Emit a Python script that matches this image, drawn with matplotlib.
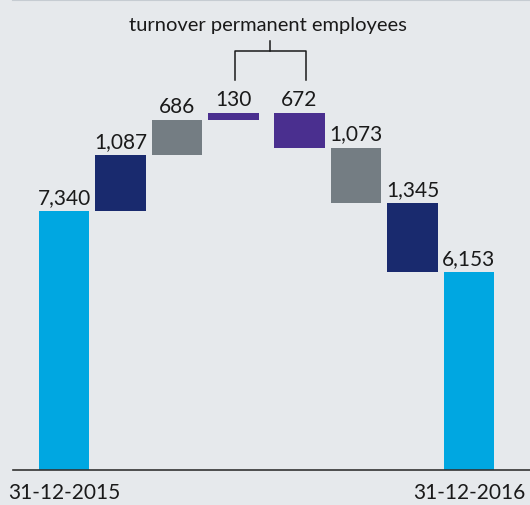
import matplotlib.pyplot as plt

plt.rcParams['font.family'] = ['Lato', 'DejaVu Sans']

# data
steps = [7340, 1087, 686, 130, -672, -1073, -1345, 6153]
labels = ['7,340', '1,087', '686', '130', '672', '1,073', '1,345', '6,153']
colors = ['#00a7e1', '#192a6e', '#747d83', '#4a2f8f',
          '#4a2f8f', '#747d83', '#192a6e', '#00a7e1']
xticklabels = ['31-12-2015', '31-12-2016']
bracket_text = 'turnover permanent employees'

bg = '#e6e9ec'
fig = plt.figure(figsize=(5.30, 5.06), dpi=100, facecolor=bg)
ax = fig.add_axes([13 / 530, 35 / 506, 517 / 530, 471 / 506 - 0.002])
ax.set_facecolor(bg)

# x layout: even steps with a small extra gap between the two turnover bars
xs = [i + (0.168 if i >= 4 else 0) for i in range(len(steps))]

running = 0
tops = []
for i, v in enumerate(steps):
    if i == 0 or i == len(steps) - 1:
        bottom, height = 0, v
        running = v
    else:
        bottom = running if v > 0 else running + v
        height = abs(v)
        running += v
    ax.bar(xs[i], height, bottom=bottom, width=0.9, color=colors[i], zorder=2)
    tops.append(bottom + height)

for x, top, lab in zip(xs, tops, labels):
    ax.annotate(lab, (x, top), xytext=(0, 6), textcoords='offset points',
                ha='center', va='baseline', fontsize=15, color='#1a1a1a')

# bracket over the turnover bars
tr = ax.get_xaxis_transform()
xl, xr = xs[3] + 0.03, xs[4] + 0.11
xm = (xl + xr) / 2
ax.plot([xl, xl, xr, xr], [0.830, 0.892, 0.892, 0.830], color='#1a1a1a',
        lw=1.1, transform=tr, clip_on=False)
ax.plot([xm, xm], [0.892, 0.913], color='#1a1a1a', lw=1.1, transform=tr,
        clip_on=False)
ax.text(xm - 0.04, 0.947, bracket_text, transform=tr, ha='center',
        va='center', fontsize=14.5, color='#1a1a1a')

ax.set_xlim(-0.903, 8.248)
ax.set_ylim(2300, 11450)
ax.set_yticks([])
ax.set_xticks([xs[0], xs[-1]])
ax.set_xticklabels(xticklabels, fontsize=15, color='#1a1a1a')
ax.tick_params(axis='x', length=0, pad=9)

for s in ['left', 'right']:
    ax.spines[s].set_visible(False)
ax.spines['bottom'].set_color('#333333')
ax.spines['bottom'].set_linewidth(1.2)
ax.spines['top'].set_color('#c6ccd2')
ax.spines['top'].set_linewidth(1.5)

fig.savefig('out.png', dpi=100, facecolor=bg)
